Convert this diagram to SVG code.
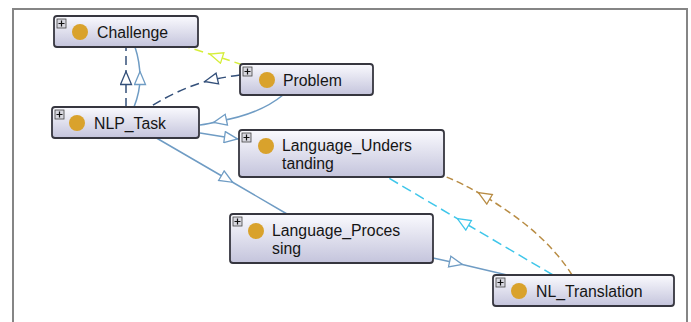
<svg xmlns="http://www.w3.org/2000/svg" width="691" height="322" viewBox="0 0 691 322">
<style>
.box{fill:url(#g);stroke:#36363f;stroke-width:1.8}
.pl{fill:#d8d8e0;stroke:#444;stroke-width:0.8}
.plt{stroke:#111;stroke-width:1.2}
.dot{fill:#d9a22c}
.t{font-family:"Liberation Sans",Arial,sans-serif;font-size:15.8px;fill:#151515}
.e{fill:none;stroke-width:1.5}
.blue{stroke:#6f9cc4;marker-mid:url(#mb)}
.dark{stroke:#34507a;stroke-dasharray:9 5;marker-mid:url(#md)}
.yel{stroke:#d6ee3a;stroke-dasharray:9 5;marker-mid:url(#my)}
.cyan{stroke:#3fc6ea;stroke-dasharray:10 5;marker-mid:url(#mc)}
.brown{stroke:#b88c44;stroke-dasharray:7 4;marker-mid:url(#mr)}
</style>
<defs>
<linearGradient id="g" x1="0" y1="0" x2="0" y2="1">
<stop offset="0" stop-color="#fafafe"/>
<stop offset="1" stop-color="#c4c4dc"/>
</linearGradient>
<marker id="mb" viewBox="-1 -1 15 13" refX="6.5" refY="5.5" markerWidth="15" markerHeight="13" markerUnits="userSpaceOnUse" orient="auto"><path d="M0,0 L13,5.5 L0,11 z" fill="#fff" stroke="#6f9cc4" stroke-width="1.3"/></marker>
<marker id="md" viewBox="-1 -1 15 13" refX="6.5" refY="5.5" markerWidth="15" markerHeight="13" markerUnits="userSpaceOnUse" orient="auto"><path d="M0,0 L13,5.5 L0,11 z" fill="#fff" stroke="#34507a" stroke-width="1.3"/></marker>
<marker id="my" viewBox="-1 -1 15 13" refX="6.5" refY="5.5" markerWidth="15" markerHeight="13" markerUnits="userSpaceOnUse" orient="auto"><path d="M0,0 L13,5.5 L0,11 z" fill="#fff" stroke="#d6ee3a" stroke-width="1.3"/></marker>
<marker id="mc" viewBox="-1 -1 15 13" refX="6.5" refY="5.5" markerWidth="15" markerHeight="13" markerUnits="userSpaceOnUse" orient="auto"><path d="M0,0 L13,5.5 L0,11 z" fill="#fff" stroke="#3fc6ea" stroke-width="1.3"/></marker>
<marker id="mr" viewBox="-1 -1 15 13" refX="6.5" refY="5.5" markerWidth="15" markerHeight="13" markerUnits="userSpaceOnUse" orient="auto"><path d="M0,0 L13,5.5 L0,11 z" fill="#fff" stroke="#b88c44" stroke-width="1.3"/></marker>
</defs>
<rect x="0" y="0" width="691" height="322" fill="#fff"/>
<path d="M13,330 L13,9 L687,9 L687,330" fill="none" stroke="#858585" stroke-width="2"/>
<g id="connectors">
<path class="e dark" d="M126,107 L126,78 L126,47"/>
<path class="e blue" d="M134,107 Q140,92 140,78 Q140,62 135,47"/>
<path class="e yel" d="M243,65 L216,56 L187,47"/>
<path class="e dark" d="M240,75 Q225,77 211,80 Q180,88 150,107"/>
<path class="e blue" d="M283,95 Q260,114 220,121 Q208,124 200,125"/>
<path class="e blue" d="M200,133 L231,138 L239,139"/>
<path class="e blue" d="M153,136 L227,179 L287,214"/>
<path class="e blue" d="M433,258 L456,263 L507,275"/>
<path class="e cyan" d="M553,275 L463,222 L387,177"/>
<path class="e brown" d="M572,275 Q545,232 484,196 Q462,183 444,176"/>
</g>
<g id="challenge">
<rect class="box" x="54" y="16" width="144" height="31" rx="3"/>
<rect class="pl" x="57" y="19" width="9" height="9"/>
<path class="plt" d="M58.5,23.5 h6 M61.5,20.5 v6"/>
<circle class="dot" cx="80" cy="32" r="8"/>
<text class="t" x="97" y="38">Challenge</text>
</g>
<g id="problem">
<rect class="box" x="240" y="64" width="133" height="31" rx="3"/>
<rect class="pl" x="243" y="67" width="9" height="9"/>
<path class="plt" d="M244.5,71.5 h6 M247.5,68.5 v6"/>
<circle class="dot" cx="267" cy="80" r="8"/>
<text class="t" x="283" y="86">Problem</text>
</g>
<g id="nlp_task">
<rect class="box" x="52" y="107" width="147" height="31" rx="3"/>
<rect class="pl" x="55" y="110" width="9" height="9"/>
<path class="plt" d="M56.5,114.5 h6 M59.5,111.5 v6"/>
<circle class="dot" cx="77" cy="123" r="8"/>
<text class="t" x="94" y="129">NLP_Task</text>
</g>
<g id="language_understanding">
<rect class="box" x="239" y="130" width="205" height="47" rx="3"/>
<rect class="pl" x="242" y="133" width="9" height="9"/>
<path class="plt" d="M243.5,137.5 h6 M246.5,134.5 v6"/>
<circle class="dot" cx="266" cy="146" r="8"/>
<text class="t" x="282" y="151">Language_Unders</text>
<text class="t" x="282" y="169">tanding</text>
</g>
<g id="language_processing">
<rect class="box" x="230" y="214" width="203" height="49" rx="3"/>
<rect class="pl" x="233" y="217" width="9" height="9"/>
<path class="plt" d="M234.5,221.5 h6 M237.5,218.5 v6"/>
<circle class="dot" cx="256" cy="231" r="8"/>
<text class="t" x="272" y="236">Language_Proces</text>
<text class="t" x="272" y="254">sing</text>
</g>
<g id="nl_translation">
<rect class="box" x="493" y="275" width="181" height="31" rx="3"/>
<rect class="pl" x="496" y="278" width="9" height="9"/>
<path class="plt" d="M497.5,282.5 h6 M500.5,279.5 v6"/>
<circle class="dot" cx="519" cy="291" r="8"/>
<text class="t" x="536" y="297">NL_Translation</text>
</g>
</svg>
